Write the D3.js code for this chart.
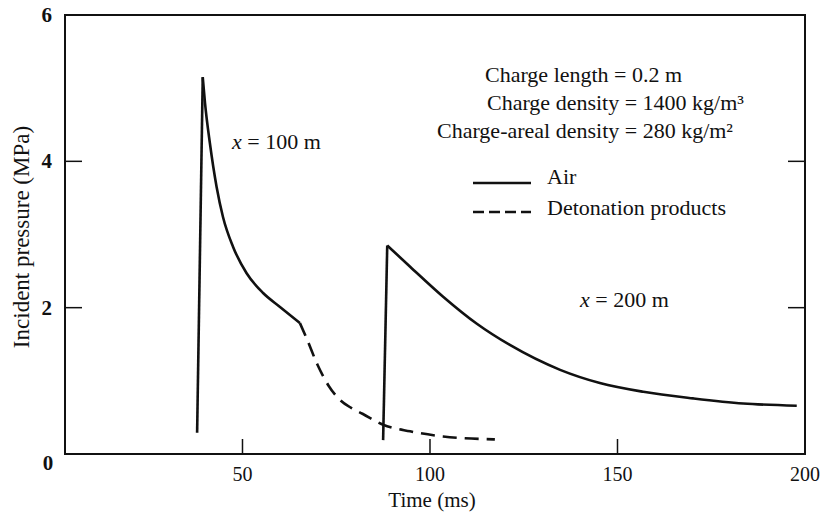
<!DOCTYPE html>
<html><head><meta charset="utf-8">
<script src="https://cdn.jsdelivr.net/npm/d3@7"></script>
<style>
body{margin:0;background:#fff;}
text{font-family:"Liberation Serif","Times New Roman",serif;fill:#111;}
</style></head>
<body><svg id="c" width="825" height="516"></svg>
<script>
// ---- data (time in ms, pressure in MPa) ----
const xTicks = [50, 100, 150, 200];
const yTicks = [2, 4, 6];
// x = 100 m : shock rise
const rise100T = [37.9, 39.4];
const rise100P = [0.29, 5.15];
// x = 100 m : air phase decay
const air100T = [39.4, 40.0, 41.3, 43.1, 44.8, 47.5, 51.1, 55.5, 60.0, 65.3];
const air100P = [5.15, 4.80, 4.25, 3.65, 3.24, 2.83, 2.47, 2.20, 2.01, 1.79];
// x = 100 m : detonation products
const det100T = [65.3, 67.1, 70.0, 73.0, 76.0, 79.0, 82.0, 87.5, 94.7, 103.5, 117.3];
const det100P = [1.79, 1.58, 1.22, 0.93, 0.74, 0.63, 0.55, 0.40, 0.31, 0.24, 0.20];
// x = 200 m : shock rise
const rise200T = [87.5, 88.6];
const rise200P = [0.19, 2.85];
// x = 200 m : air phase decay
const air200T = [88.6, 94.7, 103.5, 112.5, 121.3, 134.7, 145.3, 156.9, 170.2, 183.5, 197.8];
const air200P = [2.85, 2.56, 2.15, 1.78, 1.49, 1.15, 0.97, 0.85, 0.76, 0.69, 0.66];

const svg = d3.select("#c");
const x = d3.scaleLinear().domain([2.67, 200]).range([65, 805]);
const y = d3.scaleLinear().domain([0, 6]).range([454, 15]);
const FS = 22;

// frame
svg.append("rect").attr("x", 65).attr("y", 15).attr("width", 740).attr("height", 439)
  .attr("fill", "none").attr("stroke", "#111").attr("stroke-width", 2);

// ticks (inward)
const xt = xTicks.filter(d => d < 200);
svg.append("g").selectAll("line").data(xt).join("line")
  .attr("x1", d => x(d)).attr("x2", d => x(d)).attr("y1", 454).attr("y2", 439)
  .attr("stroke", "#111").attr("stroke-width", 1.5);
const yt = yTicks.filter(d => d < 6);
svg.append("g").selectAll("line").data(yt).join("line")
  .attr("x1", 65).attr("x2", 82).attr("y1", d => y(d)).attr("y2", d => y(d))
  .attr("stroke", "#111").attr("stroke-width", 1.5);
svg.append("g").selectAll("line").data(yt).join("line")
  .attr("x1", 805).attr("x2", 788).attr("y1", d => y(d)).attr("y2", d => y(d))
  .attr("stroke", "#111").attr("stroke-width", 1.5);

// tick labels
svg.append("g").selectAll("text").data(xTicks).join("text")
  .attr("x", d => x(d)).attr("y", 481).attr("text-anchor", "middle")
  .attr("font-size", 20).text(d => d);
svg.append("g").selectAll("text").data(yTicks).join("text")
  .attr("x", 52).attr("y", d => y(d) + 7).attr("text-anchor", "end")
  .attr("font-size", 21).attr("font-weight", "bold").text(d => d);
svg.append("text").attr("x", 48).attr("y", 470).attr("text-anchor", "middle")
  .attr("font-size", 21).attr("font-weight", "bold").text("0");

// axis titles
svg.append("text").attr("x", 432).attr("y", 507).attr("text-anchor", "middle")
  .attr("font-size", 21).text("Time (ms)");
svg.append("text").attr("transform", "translate(29,237) rotate(-90)")
  .attr("text-anchor", "middle").attr("font-size", 23).text("Incident pressure (MPa)");

// curves
const lin = d3.line().x(d => x(d[0])).y(d => y(d[1]));
const smooth = d3.line().x(d => x(d[0])).y(d => y(d[1])).curve(d3.curveMonotoneX);
const zip = (a, b) => a.map((v, i) => [v, b[i]]);
function draw(gen, pts, dashed) {
  svg.append("path").attr("d", gen(pts)).attr("fill", "none")
    .attr("stroke", "#111").attr("stroke-width", 2.6)
    .attr("stroke-linejoin", "miter")
    .attr("stroke-dasharray", dashed ? "14,8" : null);
}
draw(lin, zip(rise100T, rise100P), false);
draw(smooth, zip(air100T, air100P), false);
draw(smooth, zip(det100T, det100P), true);
draw(lin, zip(rise200T, rise200P), false);
draw(smooth, zip(air200T, air200P), false);

// curve labels
const lab = (xx, yy, rest) => {
  const t = svg.append("text").attr("x", xx).attr("y", yy).attr("font-size", FS);
  t.append("tspan").attr("font-style", "italic").text("x");
  t.append("tspan").text(rest);
};
lab(232, 149, " = 100 m");
lab(580, 307, " = 200 m");

// annotations
const notes = [
  {t: "Charge length = 0.2 m", x: 485, y: 82},
  {t: "Charge density = 1400 kg/m³", x: 487, y: 110},
  {t: "Charge-areal density = 280 kg/m²", x: 437, y: 138}
];
svg.append("g").selectAll("text").data(notes).join("text")
  .attr("x", d => d.x).attr("y", d => d.y).attr("font-size", FS).text(d => d.t);

// legend
svg.append("line").attr("x1", 473).attr("x2", 531).attr("y1", 183).attr("y2", 183)
  .attr("stroke", "#111").attr("stroke-width", 2.4);
svg.append("text").attr("x", 547).attr("y", 184).attr("font-size", FS).text("Air");
svg.append("line").attr("x1", 473).attr("x2", 531).attr("y1", 212).attr("y2", 212)
  .attr("stroke", "#111").attr("stroke-width", 2.4).attr("stroke-dasharray", "11,5");
svg.append("text").attr("x", 547).attr("y", 215).attr("font-size", FS).text("Detonation products");
</script></body></html>
